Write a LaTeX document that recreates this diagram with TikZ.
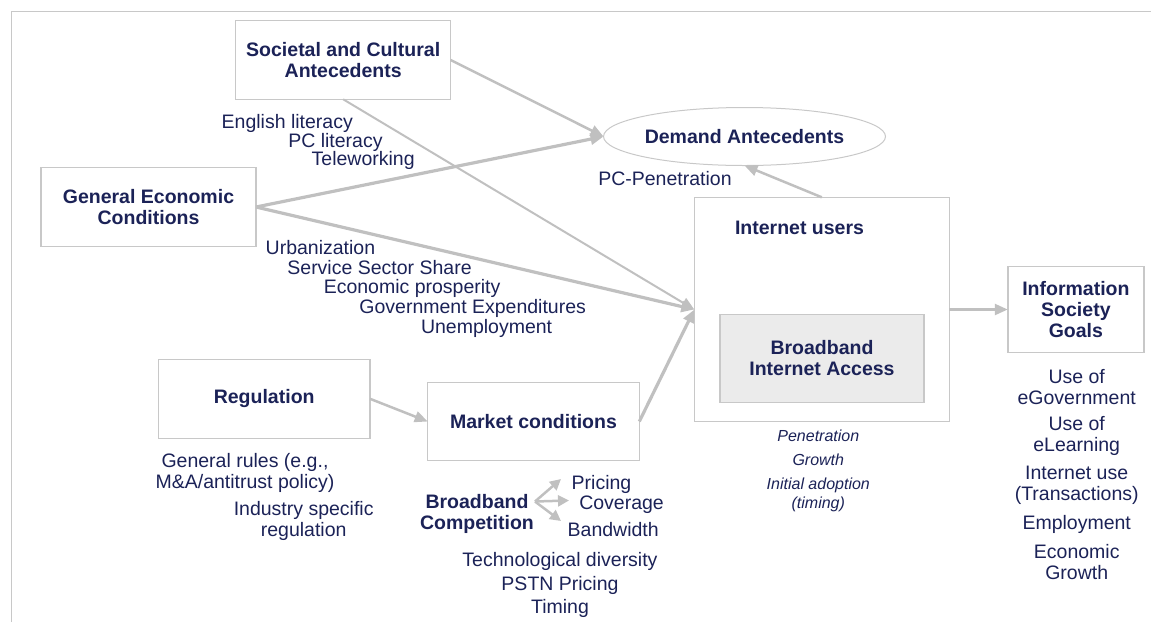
\documentclass[tikz,border=0pt]{standalone}
\usepackage{fontspec}
\setmainfont{Liberation Sans}
\usetikzlibrary{arrows.meta,shapes.geometric}
\definecolor{ink}{HTML}{1B2257}
\definecolor{wire}{HTML}{C0C0C0}
\definecolor{edge}{HTML}{C8C8C8}
\definecolor{panel}{HTML}{EBEBEB}
\begin{document}
\begin{tikzpicture}[x=1pt,y=-1pt,
  every node/.style={text=ink, font=\fontsize{19.5}{21}\selectfont, inner sep=0pt, outer sep=0pt},
  box/.style={draw=edge, line width=1.5pt, fill=white, align=center,
    font=\bfseries\fontsize{19.5}{21}\selectfont},
  lbl/.style={anchor=base west},
  stack/.style={align=center},
  note/.style={font=\itshape\fontsize{16}{18.4}\selectfont, align=center},
  flow/.style={draw=wire, line width=2.5pt, -{Triangle[length=13pt,width=11pt]}},
  heavy/.style={flow, line width=3.2pt},
  light/.style={flow, line width=2pt},
  fork/.style={draw=wire, line width=2.5pt, -{Triangle[length=11pt,width=11pt]}},
]
\useasboundingbox (0,0) rectangle (1151,622);

% outer frame (top and left sides)
\draw[edge, line width=1.6pt] (11.5,622) -- (11.5,11.5) -- (1151,11.5);

% main boxes
\node[box, minimum width=215, minimum height=78.6] (soc) at (343.2,60)
  {Societal and Cultural\\Antecedents};
\node[box, minimum width=215, minimum height=79.4] (ge) at (148.5,207)
  {General Economic\\Conditions};
\node[box, minimum width=211.7, minimum height=79] (reg) at (264.2,398.8)
  {Regulation};
\node[box, minimum width=211.6, minimum height=78.4] (mkt) at (533.5,421.5)
  {Market conditions};
\node[box, minimum width=255, minimum height=224.4] (iu) at (821.8,309.5) {};
\node[box, fill=panel, minimum width=204, minimum height=88] (bb) at (822,358.3)
  {Broadband\\Internet Access};
\node[box, minimum width=136.3, minimum height=85.6] (info) at (1075.9,309.5)
  {Information\\Society\\Goals};
\node[ellipse, draw=edge, line width=1pt, minimum width=272, minimum height=58,
  font=\bfseries\fontsize{19.5}{21}\selectfont] (dem) at (744.5,136.5)
  {Demand Antecedents};
\node[lbl, font=\bfseries\fontsize{19.5}{21}\selectfont] (iut) at (735,234.7) {Internet users};

% connectors
\draw[flow] (soc.east) -- (dem.west);
\draw[heavy] (ge.east) -- (dem.west);
\draw[light] (soc.south) -- (iu.west);
\draw[heavy] (ge.east) -- (iu.west);
\draw[heavy] (mkt.east) -- (iu.west);
\draw[flow] (reg.east) -- (mkt.west);
\draw[flow] (iu.north) -- (dem.south);
\draw[flow] (iu.east) -- (info.west);

% societal factors
\node[lbl] (t1) at (221.7,128.7) {English literacy};
\node[lbl] (t2) at (288.3,147) {PC literacy};
\node[lbl] (t3) at (311.7,165.3) {Teleworking};
\node[lbl] (t4) at (598.3,185.3) {PC-Penetration};

% economic factors
\node[lbl] (e1) at (265.7,254.3) {Urbanization};
\node[lbl] (e2) at (287.4,274.7) {Service Sector Share};
\node[lbl] (e3) at (323.8,293.7) {Economic prosperity};
\node[lbl] (e4) at (359.4,313.7) {Government Expenditures};
\node[lbl] (e5) at (421,333) {Unemployment};

% regulation factors
\node[stack] (r1) at (245,472.5) {General rules (e.g.,\\M\&A/antitrust policy)};
\node[stack] (r2) at (303.7,520.5) {Industry specific\\regulation};

% market factors
\node[stack, font=\bfseries\fontsize{19.5}{21}\selectfont] (bbc) at (477,514) {Broadband\\Competition};
\coordinate (fk) at (535,501.5);
\node[lbl] (m1) at (571.7,489.3) {Pricing};
\node[lbl] (m2) at (579.3,509.3) {Coverage};
\node[lbl] (m3) at (567.7,536.3) {Bandwidth};
\coordinate (m1t) at (561,479);
\coordinate (m2t) at (569,500.5);
\coordinate (m3t) at (561,521);
\draw[fork] (fk) -- (m1t);
\draw[fork] (fk) -- (m2t);
\draw[fork] (fk) -- (m3t);
\node[stack, font=\fontsize{19.5}{23.3}\selectfont] (m4) at (560,585)
  {Technological diversity\\PSTN Pricing\\Timing};

% adoption measures
\node[note, anchor=base] (a1) at (818.3,441) {Penetration};
\node[note, anchor=base] (a2) at (818.3,465) {Growth};
\node[note] (a3) at (818.3,495) {Initial adoption\\(timing)};

% information society goals
\node[stack] (g1) at (1076.7,387) {Use of\\eGovernment};
\node[stack] (g2) at (1076.7,436) {Use of\\eLearning};
\node[stack] (g3) at (1076.7,485) {Internet use\\(Transactions)};
\node[anchor=base] (g4) at (1076.7,529.3) {Employment};
\node[stack] (g5) at (1076.7,562) {Economic\\Growth};
\end{tikzpicture}
\end{document}
